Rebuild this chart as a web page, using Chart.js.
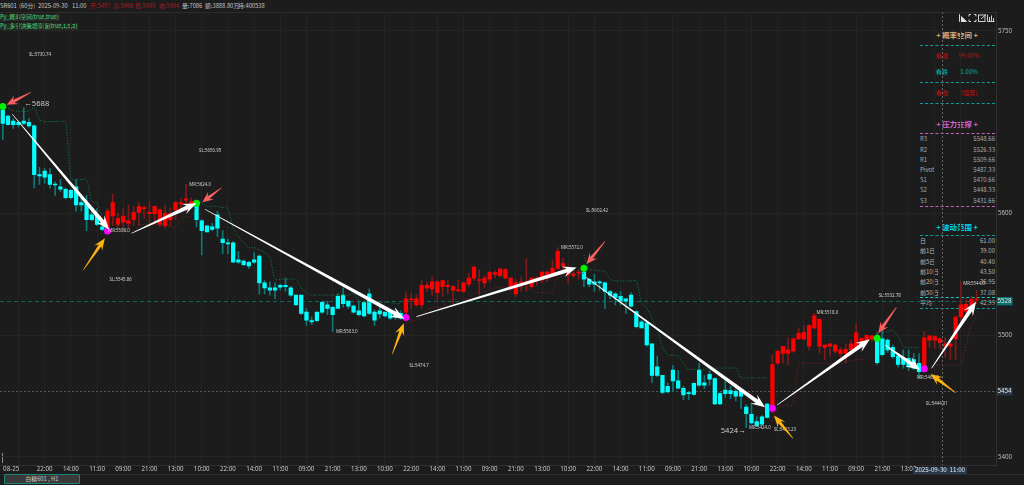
<!DOCTYPE html>
<html>
<head>
<meta charset="utf-8">
<style>
  html, body { margin: 0; padding: 0; background: #1c1c1c; overflow: hidden; }
  #wrap { position: relative; width: 1024px; height: 485px; font-family: "Noto Sans CJK SC", "Noto Sans", sans-serif; }
  #chart { position: absolute; left: 0; top: 0; z-index: 1; }
  .t { position: absolute; white-space: nowrap; line-height: 1; z-index: 0; }
  .dash { position: absolute; height: 0; z-index: 0; }
  .front { z-index: 2; }
</style>
<script src="https://cdn.jsdelivr.net/npm/chart.js@4"></script>
</head>
<body>
<div id="wrap"><canvas id="chart" width="1024" height="485"></canvas></div>
<script>
// candles
const opens = [5685,5680,5676,5675,5676,5675,5672,5632,5635,5632,5624,5622,5620,5619,5622,5609,5608,5599,5599,5589,
  5588,5598,5591,5593,5592,5595,5601,5604,5600,5600,5591,5590,5595,5603,5608,5611,5608,5606,5594,5590,
  5589,5599,5579,5576,5576,5562,5561,5560,5562,5565,5543,5539,5539,5541,5541,5539,5533,5533,5519,5512,
  5519,5527,5525,5523,5532,5533,5528,5524,5520,5527,5534,5519,5520,5519,5519,5519,5518,5519,5529,5525,
  5525,5539,5538,5535,5540,5540,5537,5536.5,5536,5542,5547,5545,5543,5546,5550,5549,5547,5540,5534,5543,
  5543,5540,5545,5545.5,5547,5551,5555,5557,5550,5549,5551,5552,5546,5544,5544,5543,5536,5534,5532,5530,
  5533,5519.5,5511,5510,5493,5474,5467,5458,5471.5,5462.5,5456.5,5453,5460.5,5471.5,5461,5468,5464.5,5452,5455,5454.5,
  5454,5454.5,5441,5435,5429,5433,5443.5,5443,5477,5485,5485,5487,5497,5497,5491,5506,5491,5490,5491,5487,
  5485,5485,5488,5490,5493,5496,5497,5497.5,5497,5496,5490,5483,5481,5481,5480,5477,5473,5496,5496,5494,
  5491,5491,5497,5515,5519.5,5522,5529];
const highs = [5688,5681,5678,5676,5687,5678,5673,5638,5637,5637,5626,5628,5621,5620,5628,5615,5615,5603,5604,5592,
  5604,5616,5600,5604,5607,5606,5609,5606,5610,5606,5604,5607,5605,5610,5612,5624,5613,5610,5595,5590,
  5592,5602,5586,5579,5577,5569,5562,5561,5568,5566,5545,5544,5543,5542,5547,5540,5533,5533,5522,5515,
  5519,5528,5528,5523.5,5534,5539,5528,5525,5528,5528,5538,5521,5523,5519,5521,5522,5520,5536,5534,5533,
  5545,5544,5548,5545,5545,5545,5541,5545.5,5544,5551,5557,5554,5549,5552,5553,5555,5555,5547.5,5546,5548,
  5563,5547,5548,5552,5553,5562,5572,5563,5557,5555,5554,5557,5547,5550,5545,5544,5537,5535,5536,5530,
  5535,5520,5512,5511,5493,5483,5467,5461,5475,5471,5458,5454,5461,5477,5467,5471,5465,5453,5463,5458,
  5456,5456,5443,5444,5433,5434,5444,5484,5487.5,5491,5498,5498,5506,5508,5509,5518,5513,5492,5493,5493,
  5490,5493,5496,5510,5498,5500,5500,5502,5504,5497,5492,5485,5488,5488,5485,5485,5503,5500,5500,5498,
  5498,5494,5516,5544,5530,5532,5537];
const lows = [5661,5673,5670,5671,5673,5671,5621,5624,5625,5621,5615,5618,5612,5612,5602,5602,5586,5594,5590,5586,
  5586,5590,5589,5588,5588,5590,5590,5596,5589,5592,5589,5588,5590,5595,5603,5602,5607,5589,5566,5585,
  5586,5581,5567,5567,5560,5559,5557,5555,5559,5534,5534,5533,5530,5537,5536,5532,5525,5517,5508,5509,
  5511,5518,5517,5503,5522,5523,5522,5518,5516,5515,5517,5508,5514,5515,5513,5513,5513,5513,5522,5524,
  5522,5536,5533,5528,5532,5534,5526,5536,5535,5540,5545,5533,5539,5544,5547,5548,5547,5537,5532,5536,
  5536,5539,5541,5543,5544,5550,5554,5554,5543,5547,5546,5540,5540,5536,5537,5522,5530,5525,5525,5518,
  5523,5506,5506,5491,5461,5466,5452,5453,5454,5456,5447,5447,5451,5458,5456,5459,5443,5443,5449,5448,
  5446,5440,5424,5427,5425,5426,5432,5436,5476,5477,5476,5486,5496.5,5496,5488,5505,5485,5480,5483,5485,
  5482,5477,5484,5489,5489,5494,5495,5476,5483,5486,5481,5474,5473,5471,5472,5465,5470,5490,5489,5489,
  5482,5480,5480,5512,5518,5521,5526];
const closes = [5674,5673,5673,5673,5674,5672,5632,5631,5630,5624,5623.5,5620,5613,5613,5607,5607,5595,5595,5591,5587,
  5602,5609,5596,5598,5594,5601,5606,5605,5601,5606,5603,5600,5600,5609,5609,5612,5610,5595,5586,5585,
  5587,5588,5576,5575,5560,5560,5558,5557,5560,5543,5539,5537,5537,5539.5,5540,5533,5525,5518,5512.5,5511,
  5512,5519,5522,5517,5522,5526,5524,5519,5517,5516,5518,5512.5,5517.5,5516,5514,5515,5514,5530,5530,5530,
  5541,5541,5544,5544,5545,5541,5540,5537,5543,5547,5556,5545.5,5547,5552,5551.5,5554.6,5554,5547,5543,5543.5,
  5544,5547,5547,5552,5552,5555,5569,5559,5551,5550.5,5552,5546,5542,5542,5543,5536,5533,5531,5528,5528,
  5524,5507,5506,5492,5467,5467,5453,5453.5,5462.5,5456.5,5451,5452,5451.5,5459,5459,5464,5443.5,5443.5,5452,5452,
  5450,5450,5435.5,5428,5426,5427,5432.5,5476,5487,5491,5488,5497,5501.5,5502.5,5508,5516,5513,5492,5493,5492,
  5488,5488.5,5493,5502,5497.5,5500,5499.5,5477.5,5484,5488,5482.5,5476,5476,5474,5473,5470,5498,5499.5,5499,5497,
  5493,5493,5515,5525,5525.5,5529.5,5530];

// trailing stop line segments, first candle of each and its values
const stopStarts = [0, 20, 37, 77, 111, 147, 167, 176];
const stopValues = [
  [5688,5686.5,5684.6,5684,5684,5684,5687,5677,5675.6,5675.6,5675.6,5675.6,5675.6,5629,5627.6,5628,5628,5610,5608.5,5596],
  [5585.7,5585,5585,5585,5585,5584.6,5590.6,5591,5591,5591,5591,5590,5589,5589,5595,5597.5,5597.5,5607],
  [5610,5609,5606,5606,5606,5605,5604,5588,5581,5576,5572,5572,5570,5568,5564,5546,5546,5546,5546,5546,5539,5535,5533,5533,5533,5533,5533,5533,5533,5533,5534.5,5528,5527,5527,5527,5527,5527,5527,5526,5526],
  [5510,5511,5513,5515,5521,5523,5523,5523,5529,5529.5,5530,5530,5530,5534.5,5535,5536,5537,5539,5539.5,5539.5,5539.5,5539.5,5539.5,5539,5537,5535,5535,5535,5535,5547,5549,5549,5550,5550,5551],
  [5566,5554.3,5553.5,5553,5552.4,5546,5544.7,5544.7,5544.7,5544.7,5544.7,5527,5522,5514,5505,5490,5484,5483.5,5483,5477,5472,5472,5472,5472,5473,5473,5473,5473,5473,5473,5465,5465,5465,5465,5465,5465],
  [5430,5441,5442,5442.5,5443,5477,5477,5477,5477,5477,5477,5477,5477,5477,5478,5479,5480,5480,5480],
  [5497.5,5502,5503,5503.8,5499,5490.7,5490,5490,5490],
  [5471,5472,5475.6,5475.6,5475.6,5475.6,5475.6,5475.6,5493,5509,5515.8]
];

// turning points
const topIdx = [0, 37, 111, 167];
const topPrice = [5688, 5608.5, 5555, 5497.5];
const bottomIdx = [20, 77, 147, 176];
const bottomPrice = [5585.7, 5514.7, 5440, 5472.6];

// arrows as [from idx, from price, to idx, to price]
const whiteArrows = [[1.8,5681.7,20.3,5587],[24.6,5583.9,37,5608.5],[38.6,5603.6,76.7,5513.6],[79,5515.3,109.6,5555.6],
  [111.4,5547.7,145.6,5440.9],[147.9,5442.7,165.6,5496.7],[168.5,5492,175.2,5471.5],[177.4,5472.9,185.9,5527.6]];
const coralArrows = [[5.4,5699.7,0.74,5689.3],[41.8,5621.3,38.1,5609.3],[115,5577,111.5,5558.6],[170.7,5523,167.2,5501.7]];
const amberArrows = [[15.4,5553.7,19.5,5579.7],[74.4,5484.7,76.6,5509.9],[150.9,5415.4,147.3,5434],[182,5452.8,177.2,5468.2]];

// small labels next to the marks
const noteTexts = ["SL:5730.74","SL:5650.95","MR:5586.0","MR:5624.0","SL:5545.86","MR:5503.0","SL:5474.7","MR:5572.0",
  "SL:5602.42","MR:5424.0","SL:5423.23","MR:5518.0","SL:5532.78","MR:5544.0","MR:5465.0","SL:5444.01"];
const noteIdx = [7.1,39.6,22.2,37.7,22.5,65.7,79.5,108.7,113.5,144.6,149.4,157.5,169.4,185.5,176.7,178.4];
const notePrice = [5730.4,5651.5,5586,5624,5546,5503,5474.8,5572,5602.4,5424,5422,5518.4,5532.6,5542,5465,5444];

const yTicks = [5400, 5500, 5600, 5750];
const xTickPos = [1.6, 3];
const xTickText = ["08-25", ""];
const timeCycle = ["22:00","14:00","11:00","09:00","21:00","13:00","10:00"];
for (let i = 8, k = 0; i <= 183; i += 5, k++) {
  xTickPos.push(i);
  xTickText.push(i <= 173 ? timeCycle[k % 7] : "");
}
const priceLines = [5528, 5454];
const crossIdx = 179.3;

const headerTexts = ["SR601","(60分)","2025-09-30","11:00","开:5497","高:5498","低:5489","收:5494","量:7086","额:3888.80万","持:400538"];
const headerX = [0,19,38,72,90,113,135,159,182,205,238];
const pivotNames = ["R3","R2","R1","Pivot","S1","S2","S3"];
const pivotValues = ["5548.66","5526.33","5509.66","5487.33","5470.66","5448.33","5431.66"];
const rangeNames = ["日","前1日","前5日","前10日","前20日","前50日","平均"];
const rangeValues = ["61.00","39.00","40.40","43.50","36.95","37.08","42.99"];

const wrap = document.getElementById("wrap");

function addText(text, x, y, color, size, align, extra) {
  const el = document.createElement("div");
  el.className = "t";
  el.textContent = text;
  el.style.left = x + "px";
  el.style.top = y + "px";
  el.style.color = color;
  el.style.fontSize = size + "px";
  let tx = "0";
  if (align === "center") tx = "-50%";
  if (align === "right") tx = "-100%";
  el.style.transform = "translate(" + tx + ",-50%)";
  if (extra) Object.assign(el.style, extra);
  wrap.appendChild(el);
  return el;
}

function addDash(x, y, w, color, style) {
  const el = document.createElement("div");
  el.className = "dash";
  el.style.left = x + "px";
  el.style.top = y + "px";
  el.style.width = w + "px";
  el.style.borderTop = "1px " + (style || "dashed") + " " + color;
  wrap.appendChild(el);
}

// header
headerTexts.forEach((t, i) => {
  const c = i >= 4 && i <= 7 ? "#a51d1d" : "#c4c4c4";
  addText(t, headerX[i], 5.5, c, 5.8, "left");
});
addDash(0, 12, 996, "#2c2c2c", "solid");
addText("Py_概率空间(true,true)", 0, 17.5, "#45d873", 5.6, "left", { background: "#262a27", padding: "1px 1px 1px 0" });
addText("Py_多空决策增享版(true,1,5,2)", 0, 27, "#45d873", 5.6, "left", { background: "#262a27", padding: "1px 1px 1px 0" });

// side panel
addText("+ 概率空间 +", 957, 35, "#dfae7c", 7.4, "center", { fontWeight: "bold" });
addDash(920, 45, 75, "#0e9c9c");
addText("看涨", 942, 56, "#c01010", 6.2, "center");
addText("99.00%", 969, 56, "#c01010", 6.2, "center");
addText("看跌", 942, 71.5, "#00b4b4", 6.2, "center");
addText("1.00%", 969, 71.5, "#00b4b4", 6.2, "center");
addDash(920, 81.5, 75, "#0e9c9c");
addText("看涨", 942, 93, "#c01010", 6.2, "center");
addText("[强势]", 969, 93, "#c01010", 6.2, "center");
addDash(920, 102.5, 75, "#0e9c9c");

addText("+ 压力支撑 +", 957, 123.5, "#d264d2", 7.4, "center", { fontWeight: "bold" });
addDash(920, 133, 75, "#c060c0");
pivotNames.forEach((n, i) => {
  const y = 139.3 + i * 10.2;
  addText(n, 920, y, "#a8a8a8", 6, "left");
  addText(pivotValues[i], 995, y, "#a8a8a8", 6, "right");
});
addDash(920, 205.5, 75, "#c060c0");

addText("+ 波动范围 +", 957, 226.7, "#00d8e8", 7.4, "center", { fontWeight: "bold" });
addDash(920, 235, 75, "#0e9c9c");
rangeNames.forEach((n, i) => {
  const y = 241 + i * 10.35;
  addText(n, 920, y, "#b4b4b4", 6, "left");
  addText(rangeValues[i], 995, y, "#b4b4b4", 6, "right");
});
addDash(920, 297, 75, "#18c8c8");
addDash(920, 308, 75, "#0e9c9c");

// toolbar icons
const icons = document.createElement("div");
icons.style.cssText = "position:absolute;left:959px;top:14px;z-index:0;line-height:0";
icons.innerHTML = '<svg style="display:block" width="36" height="9" viewBox="0 0 36 9" fill="none" stroke="#e4e4e4" stroke-width="0.9">' +
  '<path d="M0.5 0.5V7.5H7.5L0.5 1Z" fill="#e4e4e4"/>' +
  '<path d="M10 2.5V0.5H12M15 0.5H17V2.5M17 5.5V7.5H15M12 7.5H10V5.5"/>' +
  '<rect x="19.5" y="1" width="6.5" height="6.5"/><path d="M22 5L27 0.5"/>' +
  '<path d="M28.5 0.5V7.5H35.5M30.5 7V3M32.5 7V1.5M34.5 7V4"/></svg>';
wrap.appendChild(icons);

// bottom bits
addDash(0, 474, 1024, "#2c2c2c", "solid");
addText("白糖601 , H1", 4, 479.2, "#c8c8c8", 5.8, "left", {
  width: "74px", height: "8px", lineHeight: "8px", textAlign: "center", background: "#3a3a3a", border: "0.5px solid #1d8278", borderRadius: "1px"
});
const sliderBar = document.createElement("div");
sliderBar.style.cssText = "position:absolute;left:1.5px;top:453px;width:1.5px;height:10px;background:#8c8c8c;z-index:0";
wrap.appendChild(sliderBar);
addText("2025-09-30  11:00", 940, 470.5, "#dfe6ee", 6.2, "center", {
  background: "#2a3a4c", padding: "0.8px 2px", whiteSpace: "pre"
}).classList.add("front");

// datasets
const idx = opens.map((_, i) => i);
const isUp = idx.map(i => closes[i] >= opens[i]);
const stopSets = stopValues.map((vals, s) => ({
  type: "line",
  data: vals.map((v, i) => ({ x: stopStarts[s] + i, y: v })),
  borderColor: s % 2 === 0 ? "#0f7f49" : "#7c2222",
  borderWidth: 0.9,
  borderDash: [1.2, 1.6],
  pointRadius: 0,
  tension: 0.25,
  order: 3
}));

const datasets = [
  {
    label: "body",
    data: idx.map(i => ({ x: i, y: [opens[i], closes[i]] })),
    backgroundColor: idx.map(i => isUp[i] ? "#ff0000" : "#00ffff"),
    barThickness: 3.6,
    minBarLength: 1,
    grouped: false,
    order: 4
  },
  {
    label: "wick",
    data: idx.map(i => ({ x: i, y: [lows[i], highs[i]] })),
    backgroundColor: idx.map(i => isUp[i] ? "#7e1a1a" : "#0c7878"),
    barThickness: 1,
    grouped: false,
    order: 5
  },
  ...stopSets,
  {
    type: "line",
    data: topIdx.map((v, i) => ({ x: v, y: topPrice[i] })),
    showLine: false,
    pointRadius: 3.5,
    pointBackgroundColor: "#00f000",
    pointBorderWidth: 0,
    order: 1
  },
  {
    type: "line",
    data: bottomIdx.map((v, i) => ({ x: v, y: bottomPrice[i] })),
    showLine: false,
    pointRadius: 3.5,
    pointBackgroundColor: "#ff00ff",
    pointBorderWidth: 0,
    order: 1
  }
];

function drawArrow(ctx, x0, y0, x1, y1, color, neck, headLen, headW) {
  const len = Math.hypot(x1 - x0, y1 - y0);
  const ux = (x1 - x0) / len, uy = (y1 - y0) / len;
  const nx = -uy, ny = ux;
  const notchX = x1 - ux * headLen * 0.72, notchY = y1 - uy * headLen * 0.72;
  const baseX = x1 - ux * headLen, baseY = y1 - uy * headLen;
  ctx.beginPath();
  ctx.moveTo(x0 + nx * 0.3, y0 + ny * 0.3);
  ctx.lineTo(notchX + nx * neck / 2, notchY + ny * neck / 2);
  ctx.lineTo(baseX + nx * headW / 2, baseY + ny * headW / 2);
  ctx.lineTo(x1, y1);
  ctx.lineTo(baseX - nx * headW / 2, baseY - ny * headW / 2);
  ctx.lineTo(notchX - nx * neck / 2, notchY - ny * neck / 2);
  ctx.lineTo(x0 - nx * 0.3, y0 - ny * 0.3);
  ctx.closePath();
  ctx.fillStyle = color;
  ctx.fill();
}

const overlay = {
  id: "overlay",
  beforeDatasetsDraw(chart) {
    const { ctx, chartArea, scales: { x, y } } = chart;
    ctx.save();
    // price lines
    ctx.lineWidth = 1;
    priceLines.forEach((p, i) => {
      const py = Math.round(y.getPixelForValue(p)) + 0.5;
      ctx.strokeStyle = i === 0 ? "#0e665c" : "#555a58";
      ctx.setLineDash(i === 0 ? [4, 3] : [2, 2]);
      ctx.beginPath();
      ctx.moveTo(chartArea.left, py);
      ctx.lineTo(chartArea.right, py);
      ctx.stroke();
    });
    // crosshair
    const cx = Math.round(x.getPixelForValue(crossIdx)) + 0.5;
    ctx.strokeStyle = "#666";
    ctx.setLineDash([2, 2]);
    ctx.beginPath();
    ctx.moveTo(cx, chartArea.top);
    ctx.lineTo(cx, chartArea.bottom);
    ctx.stroke();
    ctx.restore();
  },
  afterDatasetsDraw(chart) {
    const { ctx, chartArea, scales: { x, y } } = chart;
    const px = v => x.getPixelForValue(v);
    const py = v => y.getPixelForValue(v);
    ctx.save();
    // small notes
    ctx.font = "4.4px 'Noto Sans', sans-serif";
    ctx.fillStyle = "#d0d0d0";
    ctx.textAlign = "center";
    ctx.textBaseline = "middle";
    noteTexts.forEach((t, i) => ctx.fillText(t, px(noteIdx[i]), py(notePrice[i])));
    // high and low markers
    ctx.font = "7.6px 'Noto Sans', sans-serif";
    ctx.fillStyle = "#c8c8c8";
    ctx.textAlign = "left";
    ctx.fillText("←5688", px(4.1), py(5690));
    ctx.textAlign = "right";
    ctx.fillText("5424→", px(141.9), py(5421.6));
    // arrows
    whiteArrows.forEach(a => drawArrow(ctx, px(a[0]), py(a[1]), px(a[2]), py(a[3]), "#ffffff", 4, 14, 11));
    coralArrows.forEach(a => drawArrow(ctx, px(a[0]), py(a[1]), px(a[2]), py(a[3]), "#f8605f", 3.2, 11, 9.5));
    amberArrows.forEach(a => drawArrow(ctx, px(a[0]), py(a[1]), px(a[2]), py(a[3]), "#ffb30f", 3.2, 12, 9.5));
    // price boxes on the axis
    priceLines.forEach((p, i) => {
      const yy = py(p);
      ctx.fillStyle = i === 0 ? "#0b6d6d" : "#2a3542";
      ctx.fillRect(chartArea.right + 0.5, yy - 4.2, 15.5, 8.4);
      ctx.fillStyle = "#e8e8e8";
      ctx.font = "6.2px 'Noto Sans', sans-serif";
      ctx.textAlign = "center";
      ctx.fillText(String(p), chartArea.right + 8, yy + 0.3);
    });
    ctx.restore();
  }
};

new Chart(document.getElementById("chart"), {
  type: "bar",
  data: { datasets },
  plugins: [overlay],
  options: {
    responsive: false,
    animation: false,
    devicePixelRatio: 1,
    layout: { autoPadding: false, padding: { top: 12, left: 0, right: 0, bottom: 0 } },
    plugins: { legend: { display: false }, tooltip: { enabled: false } },
    scales: {
      x: {
        type: "linear",
        min: -0.535,
        max: 189.8,
        offset: false,
        afterBuildTicks: s => { s.ticks = xTickPos.map(v => ({ value: v })); },
        afterFit: s => { s.height = 20; s.paddingLeft = 0; s.paddingRight = 0; },
        grid: {
          offset: false,
          drawTicks: false,
          color: c => (c.index === 0 ? "transparent" : "#242424"),
          lineWidth: 1
        },
        border: { color: "#303030" },
        ticks: {
          autoSkip: false,
          maxRotation: 0,
          padding: 0.5,
          color: "#c8c8c8",
          font: { size: 6.2, family: "'Noto Sans', sans-serif" },
          callback: (v, i) => xTickText[i]
        }
      },
      y: {
        position: "right",
        min: 5393.42,
        max: 5765.6,
        afterBuildTicks: s => { s.ticks = yTicks.map(v => ({ value: v })); },
        afterFit: s => { s.width = 27.5; s.paddingTop = 0; s.paddingBottom = 0; },
        grid: { drawTicks: false, color: "#242424", lineWidth: 1 },
        border: { color: "#303030" },
        ticks: {
          padding: 1.5,
          align: "center",
          color: "#bcbcbc",
          font: { size: 6.2, family: "'Noto Sans', sans-serif" },
          callback: v => String(v)
        }
      }
    }
  }
});
</script>
</body>
</html>
